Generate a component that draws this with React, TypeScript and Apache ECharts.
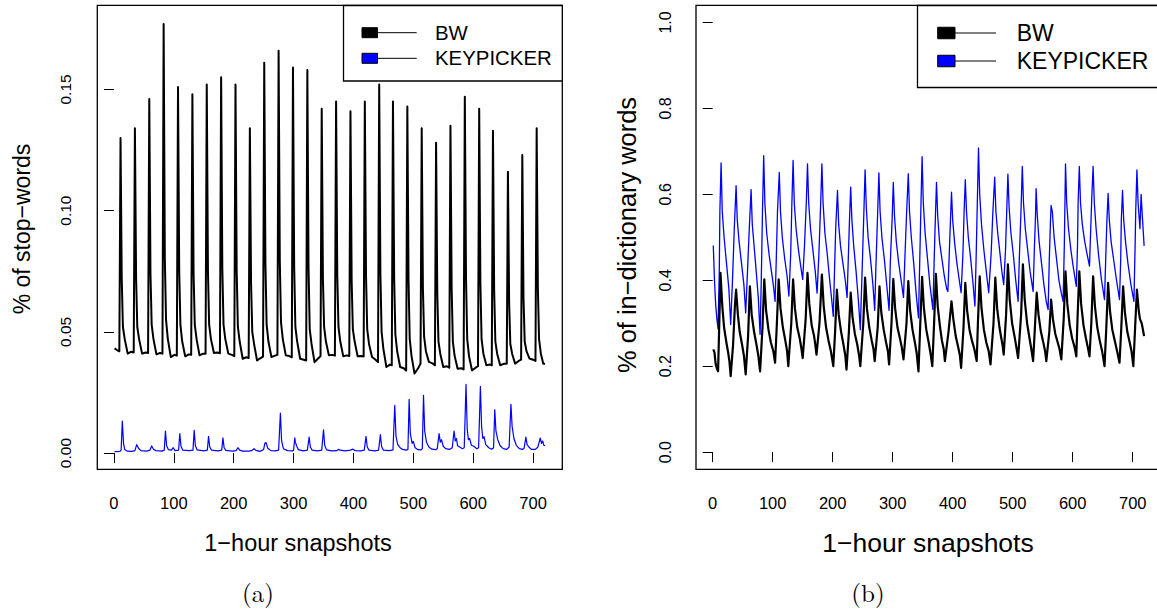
import React, { useEffect, useRef } from "react";
import * as echarts from "echarts";

const FONT = '"Liberation Sans", Arial, Helvetica, sans-serif';
const SERIF = '"Latin Modern Roman", "DejaVu Serif", "Liberation Serif", serif';

const SERIES_NAMES = ["BW", "KEYPICKER"];
const X_TICKS = [0, 100, 200, 300, 400, 500, 600, 700];
const Y_TICKS_A = [0, 0.05, 0.1, 0.15];
const Y_TICKS_B = [0, 0.2, 0.4, 0.6, 0.8, 1.0];
const X_TITLE = "1\u2212hour snapshots";
const Y_TITLE_A = "% of stop\u2212words";
const Y_TITLE_B = "% of in\u2212dictionary words";

// (a) % of stop-words, BW
const stopBW: [number, number][] = [
  [1,0.0432],[5,0.0425],[9,0.0420],[11,0.130],[13,0.072],[15,0.052],[18,0.047],[23,0.0410],[29,0.0418],
  [33,0.0415],[35,0.134],[37,0.072],[39,0.052],[42,0.047],[47,0.0410],[53,0.0415],
  [57,0.0413],[59,0.146],[61,0.074],[63,0.053],[66,0.047],[71,0.0407],[77,0.0413],
  [81,0.0410],[83,0.177],[85,0.080],[87,0.055],[90,0.047],[95,0.0396],[101,0.0405],
  [105,0.0402],[107,0.151],[109,0.075],[111,0.053],[114,0.046],[119,0.0399],[125,0.0407],
  [129,0.0405],[131,0.148],[133,0.074],[135,0.053],[138,0.047],[143,0.0403],[149,0.0410],
  [153,0.0410],[155,0.152],[157,0.075],[159,0.053],[162,0.047],[167,0.0413],[173,0.0415],
  [177,0.0412],[179,0.155],[181,0.076],[183,0.053],[186,0.047],[191,0.0410],[197,0.0405],
  [201,0.0400],[203,0.152],[205,0.075],[207,0.052],[210,0.046],[215,0.0389],[221,0.0395],
  [225,0.0392],[227,0.134],[229,0.070],[231,0.050],[234,0.045],[239,0.0382],[245,0.0392],
  [249,0.0398],[251,0.161],[253,0.078],[255,0.053],[258,0.046],[263,0.0396],[269,0.0402],
  [273,0.0405],[275,0.166],[277,0.079],[279,0.054],[282,0.047],[287,0.0403],[293,0.0400],
  [297,0.0395],[299,0.159],[301,0.077],[303,0.052],[306,0.046],[311,0.0389],[317,0.0385],
  [321,0.0382],[323,0.158],[325,0.076],[327,0.051],[330,0.045],[335,0.0375],[341,0.0390],
  [345,0.0400],[347,0.142],[349,0.072],[351,0.052],[354,0.046],[359,0.0403],[365,0.0405],
  [369,0.0402],[371,0.145],[373,0.073],[375,0.052],[378,0.046],[383,0.0399],[389,0.0403],
  [393,0.0400],[395,0.141],[397,0.071],[399,0.051],[402,0.046],[407,0.0399],[413,0.0400],
  [417,0.0398],[419,0.145],[421,0.073],[423,0.051],[426,0.045],[431,0.0396],[437,0.0385],
  [441,0.0375],[443,0.152],[445,0.074],[447,0.050],[450,0.043],[455,0.0355],[461,0.0365],
  [464,0.0362],[466,0.145],[468,0.072],[470,0.049],[473,0.042],[478,0.0355],[484,0.0350],
  [488,0.0340],[490,0.143],[492,0.071],[494,0.047],[497,0.040],[502,0.0328],[508,0.0350],
  [512,0.0368],[514,0.134],[516,0.068],[518,0.048],[521,0.042],[526,0.0376],[532,0.0370],
  [536,0.0362],[538,0.128],[540,0.066],[542,0.046],[545,0.041],[550,0.0355],[556,0.0358],
  [560,0.0352],[562,0.135],[564,0.068],[566,0.046],[569,0.040],[574,0.0348],[580,0.0350],
  [584,0.0345],[586,0.147],[588,0.072],[590,0.047],[593,0.040],[598,0.0341],[604,0.0352],
  [608,0.0358],[610,0.142],[612,0.070],[614,0.047],[617,0.041],[622,0.0362],[628,0.0365],
  [631,0.0362],[633,0.133],[635,0.067],[637,0.046],[640,0.041],[645,0.0362],[651,0.0368],
  [656,0.0368],[658,0.116],[660,0.062],[662,0.045],[665,0.041],[670,0.0369],[676,0.0380],
  [680,0.0385],[682,0.123],[684,0.064],[686,0.046],[689,0.042],[694,0.0390],[700,0.0385],
  [704,0.0380],[706,0.134],[708,0.068],[710,0.047],[713,0.041],[717,0.0368],[720,0.0368],
];

// (a) % of stop-words, KEYPICKER
const stopKP: [number, number][] = [
  [1,0.0006],[10,0.0007],[12,0.0012],[14,0.0132],[16,0.0040],[18,0.0015],[22,0.0008],[30,0.0007],
  [35,0.0010],[38,0.0035],[41,0.0020],[45,0.0010],[55,0.0008],
  [60,0.0012],[63,0.0029],[66,0.0016],[70,0.0010],[80,0.0008],
  [84,0.0012],[86,0.0091],[88,0.0030],[91,0.0014],[96,0.0012],[99,0.0022],[102,0.0010],
  [108,0.0012],[110,0.0080],[112,0.0028],[115,0.0012],[126,0.0010],
  [132,0.0012],[134,0.0094],[136,0.0030],[139,0.0013],[150,0.0009],
  [156,0.0012],[158,0.0069],[160,0.0025],[163,0.0012],[174,0.0009],
  [180,0.0012],[182,0.0063],[184,0.0022],[187,0.0011],[198,0.0008],
  [204,0.0010],[207,0.0022],[210,0.0012],[215,0.0008],[225,0.0008],
  [230,0.0010],[234,0.0018],[237,0.0011],[244,0.0007],
  [250,0.0015],[252,0.0040],[254,0.0043],[257,0.0020],[262,0.0010],[270,0.0009],
  [275,0.0012],[278,0.0165],[280,0.0050],[283,0.0018],[290,0.0010],[298,0.0009],
  [300,0.0012],[302,0.0063],[303,0.0045],[305,0.0030],[308,0.0014],[316,0.0009],
  [323,0.0012],[326,0.0066],[328,0.0025],[331,0.0012],[340,0.0009],
  [347,0.0012],[350,0.0096],[352,0.0032],[355,0.0013],[364,0.0009],
  [372,0.0010],[375,0.0015],[378,0.0012],[386,0.0009],
  [395,0.0012],[399,0.0016],[403,0.0010],[412,0.0009],
  [418,0.0012],[421,0.0069],[423,0.0025],[426,0.0012],[436,0.0009],
  [442,0.0012],[445,0.0076],[447,0.0027],[450,0.0012],[460,0.0010],
  [466,0.0013],[469,0.0197],[471,0.0070],[474,0.0035],[478,0.0022],[482,0.0015],[488,0.0012],
  [491,0.0015],[493,0.0222],[495,0.0080],[498,0.0040],[500,0.0048],[503,0.0022],[508,0.0014],[513,0.0013],
  [515,0.0018],[517,0.0238],[519,0.0090],[522,0.0045],[526,0.0025],[531,0.0016],[537,0.0014],
  [540,0.0018],[543,0.0080],[545,0.0045],[547,0.0055],[550,0.0028],[554,0.0018],[560,0.0015],
  [565,0.0022],[568,0.0091],[570,0.0050],[572,0.0060],[574,0.0030],[578,0.0024],[582,0.0018],
  [585,0.0022],[588,0.0283],[590,0.0100],[592,0.0055],[594,0.0060],[597,0.0032],[601,0.0028],[606,0.0018],
  [609,0.0022],[612,0.0275],[614,0.0110],[616,0.0060],[618,0.0068],[621,0.0035],[626,0.0022],[631,0.0016],
  [634,0.0022],[636,0.0179],[638,0.0090],[641,0.0055],[645,0.0030],[650,0.0018],[656,0.0015],
  [660,0.0025],[663,0.0201],[665,0.0110],[668,0.0060],[672,0.0032],[677,0.0018],[682,0.0015],
  [685,0.0020],[688,0.0066],[690,0.0035],[693,0.0025],[697,0.0015],[704,0.0015],
  [708,0.0025],[712,0.0062],[714,0.0040],[716,0.0050],[718,0.0032],[720,0.0030],
];

// (b) % of in-dictionary words, BW
const dictBW: [number, number][] = [
  [1,0.239],[3,0.232],[5,0.205],[7,0.195],[9,0.188],[11,0.300],[13,0.417],
  [16,0.340],[19,0.290],[23,0.254],[26,0.230],[28,0.210],[30,0.177],
  [34,0.250],[37,0.340],[39,0.378],[42,0.320],[45,0.280],[49,0.250],[52,0.225],[55,0.181],
  [59,0.270],[62,0.386],[65,0.320],[69,0.280],[73,0.250],[76,0.225],[79,0.188],
  [83,0.290],[86,0.402],[89,0.330],[93,0.285],[97,0.255],[101,0.235],[104,0.208],
  [107,0.300],[110,0.402],[113,0.335],[117,0.290],[121,0.260],[124,0.235],[126,0.200],
  [131,0.300],[134,0.402],[137,0.335],[141,0.290],[145,0.265],[148,0.240],[150,0.219],
  [155,0.310],[158,0.417],[161,0.345],[165,0.295],[169,0.270],[171,0.250],[173,0.227],
  [178,0.300],[182,0.413],[185,0.340],[189,0.290],[193,0.260],[197,0.235],[201,0.200],
  [204,0.280],[207,0.378],[210,0.320],[214,0.280],[218,0.250],[221,0.225],[223,0.192],
  [227,0.280],[230,0.371],[233,0.315],[237,0.275],[241,0.250],[244,0.225],[246,0.200],
  [251,0.300],[254,0.406],[257,0.335],[261,0.290],[265,0.260],[268,0.240],[270,0.212],
  [275,0.290],[278,0.386],[281,0.325],[285,0.285],[289,0.255],[292,0.235],[294,0.204],
  [298,0.300],[301,0.403],[304,0.335],[308,0.290],[312,0.265],[315,0.245],[318,0.216],
  [323,0.300],[326,0.398],[329,0.330],[333,0.285],[337,0.255],[340,0.230],[343,0.188],
  [346,0.300],[349,0.408],[352,0.335],[356,0.285],[360,0.255],[363,0.230],[366,0.200],
  [369,0.300],[372,0.415],[375,0.340],[379,0.290],[382,0.260],[385,0.240],[387,0.212],
  [393,0.280],[398,0.351],[401,0.310],[405,0.270],[409,0.245],[412,0.225],[414,0.196],
  [418,0.290],[421,0.394],[424,0.330],[428,0.285],[432,0.260],[436,0.240],[440,0.212],
  [442,0.300],[445,0.409],[448,0.335],[452,0.285],[456,0.255],[460,0.235],[463,0.204],
  [468,0.300],[471,0.406],[474,0.335],[478,0.290],[481,0.265],[483,0.250],[485,0.227],
  [489,0.320],[492,0.437],[495,0.355],[499,0.300],[503,0.270],[506,0.245],[509,0.219],
  [514,0.320],[517,0.437],[520,0.355],[524,0.300],[528,0.265],[531,0.240],[534,0.212],
  [537,0.290],[540,0.371],[543,0.320],[547,0.280],[551,0.255],[554,0.235],[556,0.212],
  [561,0.280],[564,0.355],[567,0.310],[571,0.275],[575,0.255],[578,0.240],[581,0.216],
  [585,0.310],[588,0.421],[591,0.345],[595,0.295],[599,0.265],[603,0.245],[606,0.223],
  [608,0.310],[611,0.421],[614,0.345],[618,0.295],[622,0.265],[625,0.245],[628,0.223],
  [631,0.300],[634,0.409],[637,0.340],[641,0.290],[645,0.260],[649,0.235],[653,0.200],
  [656,0.290],[659,0.394],[662,0.330],[666,0.285],[670,0.260],[674,0.235],[678,0.208],
  [681,0.290],[684,0.386],[687,0.325],[691,0.280],[695,0.255],[698,0.235],[701,0.200],
  [704,0.290],[707,0.378],[710,0.330],[712,0.310],[715,0.300],[719,0.270],
];

// (b) % of in-dictionary words, KEYPICKER
const dictKP: [number, number][] = [
  [1,0.481],[3,0.400],[5,0.343],[7,0.310],[9,0.287],[11,0.420],[12,0.560],[14,0.673],
  [16,0.560],[19,0.500],[23,0.440],[27,0.380],[30,0.297],
  [33,0.400],[36,0.520],[39,0.620],[41,0.540],[44,0.490],[48,0.440],[52,0.390],[55,0.324],
  [58,0.420],[61,0.520],[64,0.611],[66,0.530],[69,0.480],[72,0.430],[76,0.360],[79,0.274],
  [81,0.400],[83,0.560],[85,0.690],[87,0.580],[90,0.510],[94,0.460],[98,0.420],[101,0.390],[104,0.351],
  [106,0.450],[108,0.560],[111,0.651],[113,0.560],[116,0.500],[120,0.450],[124,0.410],[127,0.363],
  [130,0.460],[132,0.580],[134,0.679],[136,0.580],[139,0.520],[143,0.470],[147,0.430],[150,0.402],
  [153,0.480],[156,0.580],[158,0.671],[160,0.580],[163,0.520],[167,0.470],[171,0.420],[174,0.370],
  [177,0.460],[180,0.580],[182,0.671],[184,0.580],[187,0.510],[191,0.460],[195,0.400],[198,0.360],[201,0.316],
  [203,0.420],[205,0.520],[208,0.609],[210,0.530],[213,0.480],[217,0.440],[221,0.400],[224,0.360],
  [226,0.450],[228,0.540],[230,0.617],[232,0.540],[235,0.480],[239,0.420],[243,0.350],[246,0.285],
  [249,0.420],[252,0.560],[254,0.657],[256,0.570],[259,0.500],[263,0.450],[267,0.390],[270,0.330],
  [272,0.430],[275,0.560],[277,0.650],[279,0.560],[282,0.500],[286,0.450],[290,0.390],[294,0.330],
  [296,0.440],[299,0.540],[301,0.628],[303,0.550],[306,0.490],[310,0.440],[314,0.400],[318,0.360],
  [320,0.440],[323,0.550],[326,0.648],[328,0.560],[331,0.500],[335,0.440],[339,0.370],[343,0.3125],
  [345,0.440],[347,0.570],[349,0.688],[351,0.580],[354,0.510],[358,0.450],[362,0.390],[367,0.332],
  [369,0.440],[371,0.540],[373,0.628],[375,0.550],[378,0.490],[382,0.450],[386,0.410],[390,0.380],[392,0.374],
  [394,0.450],[396,0.530],[398,0.605],[400,0.540],[403,0.490],[407,0.440],[411,0.400],[414,0.371],
  [417,0.460],[419,0.560],[421,0.634],[423,0.560],[426,0.500],[430,0.450],[434,0.390],[437,0.340],
  [439,0.450],[441,0.580],[443,0.708],[445,0.600],[448,0.530],[452,0.470],[456,0.420],[460,0.371],
  [464,0.460],[467,0.560],[470,0.640],[472,0.560],[475,0.510],[479,0.460],[482,0.420],[485,0.390],
  [488,0.470],[490,0.560],[492,0.647],[494,0.570],[497,0.510],[501,0.460],[505,0.400],[509,0.351],
  [511,0.450],[514,0.570],[516,0.665],[518,0.580],[521,0.520],[525,0.470],[529,0.420],[534,0.374],
  [536,0.470],[538,0.550],[539,0.613],[541,0.550],[544,0.490],[548,0.440],[552,0.390],[556,0.350],[559,0.332],
  [561,0.450],[563,0.540],[564,0.574],[566,0.560],[569,0.500],[573,0.450],[577,0.400],[581,0.370],[584,0.351],
  [586,0.480],[588,0.671],[590,0.580],[593,0.520],[597,0.470],[601,0.430],[606,0.386],
  [608,0.480],[609,0.580],[611,0.665],[613,0.580],[616,0.530],[620,0.490],[624,0.460],[628,0.433],
  [630,0.520],[632,0.600],[634,0.665],[636,0.580],[639,0.520],[643,0.460],[648,0.400],[653,0.355],
  [655,0.450],[657,0.540],[659,0.602],[661,0.540],[664,0.490],[668,0.450],[673,0.400],[678,0.355],
  [680,0.450],[681,0.540],[683,0.609],[685,0.540],[688,0.490],[692,0.440],[697,0.390],[702,0.351],
  [704,0.480],[705,0.560],[707,0.657],[709,0.580],[712,0.520],[714,0.600],[716,0.550],[719,0.480],
];

function xAxisFor(grid: number, size: number) {
  return {
    gridIndex: grid,
    type: "value",
    min: -27.8,
    max: 748.8,
    axisLine: { show: false },
    splitLine: { show: false },
    axisTick: { show: true, length: 10, customValues: X_TICKS, lineStyle: { color: "#000", width: 1 } },
    axisLabel: { customValues: X_TICKS, margin: 25, fontSize: size, color: "#000", fontFamily: FONT },
  };
}

function yAxisFor(grid: number, min: number, max: number, ticks: number[], digits: number, size: number, margin: number) {
  return {
    gridIndex: grid,
    type: "value",
    min,
    max,
    axisLine: { show: false },
    splitLine: { show: false },
    axisTick: { show: true, length: 10, customValues: ticks, lineStyle: { color: "#000", width: 1 } },
    axisLabel: {
      customValues: ticks,
      rotate: 90,
      margin,
      fontSize: size,
      color: "#000",
      fontFamily: FONT,
      formatter: (v: number) => v.toFixed(digits),
    },
  };
}

function lineSeries(name: string, data: [number, number][], grid: number, color: string, width: number) {
  return {
    name,
    type: "line",
    xAxisIndex: grid,
    yAxisIndex: grid,
    data,
    showSymbol: false,
    symbol: "none",
    silent: true,
    emphasis: { disabled: true },
    lineStyle: { color, width, join: "round" },
    itemStyle: { color },
  };
}

function legendBox(x: number, y: number, w: number, h: number, sqX: number, sqW: number, sqH: number, rows: number[], lineEnd: number, textX: number, fontSize: number) {
  const colors = ["#000000", "#0000ff"];
  const children: any[] = [
    { type: "rect", shape: { x, y, width: w, height: h }, style: { fill: "#fff", stroke: "#000", lineWidth: 1.3 } },
  ];
  SERIES_NAMES.forEach((name, i) => {
    const cy = rows[i];
    children.push({
      type: "line",
      shape: { x1: sqX, y1: cy, x2: lineEnd, y2: cy },
      style: { stroke: "#000", lineWidth: 1 },
    });
    children.push({
      type: "rect",
      shape: { x: sqX, y: cy - sqH / 2, width: sqW, height: sqH },
      style: { fill: colors[i], stroke: "#000", lineWidth: 1 },
    });
    children.push({
      type: "text",
      x: textX,
      y: cy,
      style: { text: name, fontSize, fontFamily: FONT, fill: "#000", textAlign: "left", textVerticalAlign: "middle" },
    });
  });
  return { type: "group", z: 100, children };
}

function label(text: string, x: number, y: number, size: number, rotate = 0, family = FONT) {
  return {
    type: "text",
    x,
    y,
    rotation: rotate,
    z: 100,
    style: { text, fontSize: size, fontFamily: family, fill: "#000", textAlign: "center", textVerticalAlign: "middle" },
  };
}

export default function App() {
  const ref = useRef<HTMLDivElement>(null);
  useEffect(() => {
    document.body.style.margin = "0";
    if (!ref.current) return;
    const chart = echarts.init(ref.current, undefined, { renderer: "svg" });
    chart.setOption({
      animation: false,
      backgroundColor: "#fff",
      textStyle: { fontFamily: FONT, color: "#000" },
      grid: [
        { left: 97.3, top: 5.3, width: 465, height: 464, show: true, borderColor: "#000", borderWidth: 1.3, backgroundColor: "transparent", containLabel: false, outerBoundsMode: "none" },
        { left: 696, top: 5.3, width: 466, height: 464, show: true, borderColor: "#000", borderWidth: 1.3, backgroundColor: "transparent", containLabel: false, outerBoundsMode: "none" },
      ],
      xAxis: [xAxisFor(0, 16.5), xAxisFor(1, 16.5)],
      yAxis: [
        yAxisFor(0, -0.0067, 0.1847, Y_TICKS_A, 2, 15.5, 24),
        yAxisFor(1, -0.04, 1.04, Y_TICKS_B, 1, 16, 23),
      ],
      series: [
        lineSeries(SERIES_NAMES[0], stopBW, 0, "#000000", 2),
        lineSeries(SERIES_NAMES[1], stopKP, 0, "#0000ff", 1.2),
        lineSeries(SERIES_NAMES[1], dictKP, 1, "#0000ff", 1.3),
        lineSeries(SERIES_NAMES[0], dictBW, 1, "#000000", 2.2),
      ],
      graphic: [
        legendBox(343.5, 5.5, 218.8, 75.5, 362, 15.5, 10, [32.7, 58.3], 416.7, 435, 20.4),
        legendBox(917.5, 5.5, 260, 82, 937.7, 17.3, 11.5, [33, 61], 996, 1016.7, 23),
        label(Y_TITLE_A, 21.7, 229, 23, Math.PI / 2),
        label(Y_TITLE_B, 626.7, 235, 25.4, Math.PI / 2),
        label(X_TITLE, 298, 543, 23.5),
        label(X_TITLE, 928, 543, 26.5),
        label("(a)", 258, 591.7, 25, 0, SERIF),
        label("(b)", 868, 591.7, 25, 0, SERIF),
      ],
    });
    return () => chart.dispose();
  }, []);
  return <div ref={ref} style={{ width: 1157, height: 609 }} />;
}
